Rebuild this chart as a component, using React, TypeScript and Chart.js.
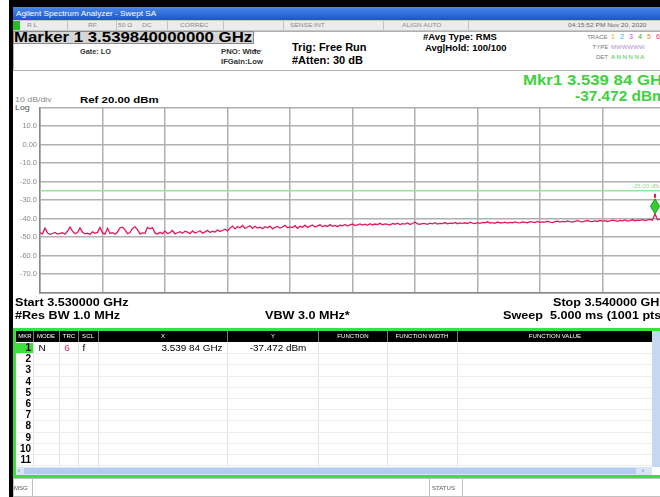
import React, { useEffect, useRef } from "react";
import { Chart, registerables } from "chart.js";

Chart.register(...registerables);

// ---- data ----
const START_GHZ = 3.53;
const STOP_GHZ = 3.54;
const X_GRID_GHZ = [3.53, 3.531, 3.532, 3.533, 3.534, 3.535, 3.536, 3.537, 3.538, 3.539, 3.54];
const Y_TICKS_DBM = [20, 10, 0, -10, -20, -30, -40, -50, -60, -70, -80];
const REF_DBM = 20;
const BOTTOM_DBM = -80;
const DISPLAY_LINE_DBM = -25;
const MARKER_GHZ = 3.53984;
const MARKER_DBM = -37.472;

// trace values (dBm), 251 sweep points
const TRACE_DBM = [
  -47.8, -48.3, -45.2, -47.9, -48.6, -48.1, -47.5, -48.4, -48.0, -47.7,
  -48.5, -46.9, -44.6, -46.8, -48.2, -47.6, -45.1, -47.4, -48.3, -47.9,
  -48.6, -47.2, -48.0, -47.5, -44.9, -47.8, -48.4, -45.3, -48.1, -47.7,
  -48.5, -47.3, -45.0, -44.7, -46.1, -48.2, -47.6, -45.4, -44.5, -46.0,
  -48.3, -47.8, -48.0, -44.8, -45.6, -44.9, -47.9, -48.4, -47.5, -48.2,
  -46.8, -48.1, -47.6, -46.5, -48.3, -47.7, -47.1, -48.0, -46.9, -47.4,
  -48.2, -46.7, -47.8, -47.3, -46.6, -47.9, -47.2, -46.4, -47.6, -46.9,
  -47.3, -46.2, -47.0, -46.5, -45.8, -46.7, -45.2, -44.1, -45.6, -44.3,
  -45.0, -43.8, -45.4, -44.6, -43.9, -45.3, -44.2, -45.1, -44.7, -45.5,
  -44.4, -45.0, -44.1, -45.6, -44.8, -44.3, -45.2, -44.6, -43.7, -45.0,
  -44.5, -44.9, -43.9, -45.3, -44.2, -44.7, -43.6, -44.8, -44.1, -43.5,
  -44.6, -44.0, -43.4, -44.5, -43.8, -44.3, -43.3, -44.2, -43.7, -44.4,
  -43.6, -43.9, -43.2, -44.1, -43.5, -43.0, -43.8, -43.4, -42.9, -43.6,
  -43.1, -43.7, -42.8, -43.5, -43.0, -43.3, -42.6, -43.4, -42.9, -43.2,
  -43.6, -42.7, -43.1, -42.5, -43.3, -42.8, -43.0, -42.4, -43.2, -42.7,
  -41.9, -42.9, -43.1, -42.6, -42.8, -43.2, -42.5, -42.9, -42.3, -43.0,
  -42.6, -42.8, -42.2, -42.9, -42.5, -42.7, -42.1, -42.8, -42.4, -42.6,
  -42.3, -42.7, -42.0, -42.5, -42.8, -42.2, -42.6, -42.1, -42.4, -41.8,
  -42.5, -42.2, -42.6, -41.9, -42.3, -42.4, -42.0, -42.5, -42.1, -42.3,
  -41.8, -42.2, -42.4, -41.9, -42.1, -42.3, -41.7, -42.0, -42.2, -41.6,
  -42.1, -41.8, -42.0, -41.5, -41.9, -42.2, -41.7, -41.4, -41.9, -41.6,
  -41.8, -41.3, -41.7, -41.9, -41.5, -41.2, -41.6, -41.8, -41.4, -41.1,
  -41.5, -41.7, -41.3, -41.6, -41.0, -41.4, -41.2, -41.6, -41.3, -40.9,
  -41.2, -41.5, -41.0, -41.3, -40.8, -41.4, -41.1, -40.7, -41.2, -40.9,
  -41.0, -40.6, -41.1, -40.8, -40.5, -40.9, -37.472, -40.7, -40.4, -40.8,
  -40.6,
];

const FONT = '"Liberation Sans", Arial, sans-serif';

type TP = {
  x: number; y: number; s: number; t: string; b?: boolean; c?: string; sx?: number;
  align?: "left" | "right" | "center";
};
function T({ x, y, s, t, b, c, sx = 1.15, align = "left" }: TP) {
  const style: React.CSSProperties = {
    position: "absolute",
    top: y - s * 0.6,
    fontSize: s,
    lineHeight: `${s * 1.2}px`,
    fontWeight: b ? 700 : 400,
    color: c || "#000",
    whiteSpace: "pre",
    fontFamily: FONT,
  };
  if (align === "left") {
    style.left = x;
    style.transform = `scaleX(${sx})`;
    style.transformOrigin = "left center";
  } else if (align === "right") {
    style.right = 660 - x;
    style.transform = `scaleX(${sx})`;
    style.transformOrigin = "right center";
  } else {
    style.left = x;
    style.transform = `translateX(-50%) scaleX(${sx})`;
    style.transformOrigin = "center";
  }
  return <div style={style}>{t}</div>;
}

function Box({ x, y, w, h, bg, border }: { x: number; y: number; w: number; h: number; bg?: string; border?: string }) {
  return (
    <div
      style={{
        position: "absolute", left: x, top: y, width: w, height: h,
        background: bg || "transparent", border: border || "none", boxSizing: "border-box",
      }}
    />
  );
}

const COLS = [16, 33, 59, 78, 98, 227, 318, 387, 457, 652];
const HEAD = ["MKR", "MODE", "TRC", "SCL", "X", "Y", "FUNCTION", "FUNCTION WIDTH", "FUNCTION VALUE"];

export default function App() {
  const ref = useRef<HTMLCanvasElement | null>(null);

  useEffect(() => {
    if (!ref.current) return;
    const n = TRACE_DBM.length;
    const trace = TRACE_DBM.map((v, i) => ({ x: START_GHZ + (i * (STOP_GHZ - START_GHZ)) / (n - 1), y: v }));
    const dl = [
      { x: START_GHZ, y: DISPLAY_LINE_DBM },
      { x: STOP_GHZ, y: DISPLAY_LINE_DBM },
    ];
    const markerPlugin = {
      id: "mkr",
      afterDatasetsDraw(chart: any) {
        const { ctx, scales, chartArea } = chart;
        const xs = scales.x, ys = scales.y;
        const px = xs.getPixelForValue(MARKER_GHZ);
        const py = ys.getPixelForValue(MARKER_DBM);
        ctx.save();
        ctx.fillStyle = "#8fdf8f";
        ctx.font = `6px ${FONT}`;
        ctx.textAlign = "right";
        ctx.textBaseline = "bottom";
        ctx.fillText(`${DISPLAY_LINE_DBM.toFixed(2)} dBm`, chartArea.right - 2, ys.getPixelForValue(DISPLAY_LINE_DBM) - 1);
        ctx.beginPath();
        ctx.moveTo(px, py);
        ctx.lineTo(px - 4.5, py - 7.5);
        ctx.lineTo(px, py - 15);
        ctx.lineTo(px + 4.5, py - 7.5);
        ctx.closePath();
        ctx.fillStyle = "#30d030";
        ctx.fill();
        ctx.strokeStyle = "#1a9a1a";
        ctx.lineWidth = 1;
        ctx.stroke();
        ctx.fillStyle = "#e3185b";
        ctx.fillRect(px - 1, py - 20, 2, 4);
        ctx.restore();
      },
    };
    const chart = new Chart(ref.current, {
      type: "line",
      data: {
        datasets: [
          { data: trace, borderColor: "#e3185b", borderWidth: 1.3, pointRadius: 0, tension: 0 },
          { data: dl, borderColor: "#98e698", borderWidth: 1.5, pointRadius: 0 },
        ],
      },
      options: {
        animation: false,
        responsive: false,
        devicePixelRatio: 1,
        layout: { padding: { top: 6, bottom: 7, left: 0, right: 15 }, autoPadding: false } as any,
        plugins: { legend: { display: false }, tooltip: { enabled: false } },
        scales: {
          x: {
            type: "linear",
            min: START_GHZ,
            max: STOP_GHZ,
            afterBuildTicks: (s: any) => {
              s.ticks = X_GRID_GHZ.map((v) => ({ value: v }));
            },
            ticks: { display: false },
            grid: { color: "#b0b0b0", drawTicks: false, lineWidth: 1.5 },
            border: { color: "#888888", width: 1.5 },
          },
          y: {
            type: "linear",
            min: BOTTOM_DBM,
            max: REF_DBM,
            afterBuildTicks: (s: any) => {
              s.ticks = Y_TICKS_DBM.map((v) => ({ value: v }));
            },
            afterFit: (s: any) => {
              s.width = 40;
            },
            ticks: {
              color: "#8a8a8a",
              padding: 3,
              font: { size: 7.5, family: FONT },
              callback: (v: any) => {
                const n2 = Number(v);
                if (n2 === REF_DBM || n2 === BOTTOM_DBM) return "";
                if (n2 === 0) return "0.00";
                return n2.toFixed(1);
              },
            },
            grid: { color: "#b0b0b0", drawTicks: false, lineWidth: 1.5 },
            border: { color: "#888888", width: 1.5 },
          },
        },
      },
      plugins: [markerPlugin],
    });
    return () => chart.destroy();
  }, []);

  const rows = Array.from({ length: 11 }, (_, i) => i);

  return (
    <div style={{ position: "absolute", left: 0, top: 0, width: 660, height: 497, overflow: "hidden", background: "#fff", fontFamily: FONT }}>
      {/* frame */}
      <Box x={9} y={0} w={660} h={7} bg="#000" />
      <Box x={9} y={0} w={4} h={497} bg="#000" />
      {/* title bar */}
      <div style={{ position: "absolute", left: 13, top: 7, width: 650, height: 13, background: "linear-gradient(#4a88ea, #1a56cc)" }} />
      <T x={16} y={13.5} s={7.5} t="Agilent Spectrum Analyzer - Swept SA" c="#fff" sx={1.1} />
      {/* status row */}
      <Box x={13} y={20} w={650} h={11} bg="#ececec" border="1px solid #c8c8c8" />
      <Box x={13} y={21} w={7} h={9} bg="#22c022" />
      {[67, 116, 167, 223, 283, 383, 468].map((x) => (
        <Box key={x} x={x} y={21} w={1} h={9} bg="#c4c4c4" />
      ))}
      <T x={27} y={25.5} s={6} t="R L" c="#8a8a8a" sx={1.1} />
      <T x={88} y={25.5} s={6} t="RF" c="#8a8a8a" sx={1.1} />
      <T x={118} y={25.5} s={6} t="50 Ω" c="#8a8a8a" sx={1.1} />
      <T x={142} y={25.5} s={6} t="DC" c="#8a8a8a" sx={1.1} />
      <T x={180} y={25.5} s={6} t="CORREC" c="#8a8a8a" sx={1.1} />
      <T x={290} y={25.5} s={6} t="SENSE:INT" c="#8a8a8a" sx={1.1} />
      <T x={402} y={25.5} s={6} t="ALIGN AUTO" c="#8a8a8a" sx={1.1} />
      <T x={568} y={25.5} s={6} t="04:15:52 PM Nov 20, 2020" c="#666" sx={1.1} />
      {/* info panel */}
      <Box x={13} y={31} w={650} h={40} border="1px solid #b0b0b0" />
      <Box x={13} y={31} w={241} h={13} bg="#d6d6d6" border="1px solid #8a8a8a" />
      <T x={14} y={37.5} s={14} b t="Marker 1 3.539840000000 GHz" sx={1.2} />
      <T x={80} y={52} s={7} b c="#333" t="Gate: LO" sx={1.05} />
      <T x={221} y={52} s={7} b c="#333" t="PNO: Wide" sx={1.1} />
      <T x={221} y={62} s={7} b c="#333" t="IFGain:Low" sx={1.1} />
      <T x={250} y={51} s={6} c="#333" t="--▸--" sx={1.1} />
      <T x={292} y={48} s={10} b t="Trig: Free Run" sx={1.1} />
      <T x={292} y={61} s={10} b t="#Atten: 30 dB" sx={1.1} />
      <T x={423} y={37} s={9.5} b t="#Avg Type: RMS" sx={1.0} />
      <T x={425} y={48} s={9.5} b t="Avg|Hold: 100/100" sx={1.0} />
      <T x={608} y={37} s={5.5} c="#777" t="TRACE" align="right" sx={1.1} />
      <T x={608} y={47} s={5.5} c="#777" t="TYPE" align="right" sx={1.1} />
      <T x={608} y={57} s={5.5} c="#777" t="DET" align="right" sx={1.1} />
      {["1", "2", "3", "4", "5", "6"].map((d, i) => (
        <T key={d} x={611 + i * 9} y={37} s={6.5} c={["#e6b800", "#30b8e0", "#d040d0", "#30b030", "#e09020", "#e03060"][i]} t={d} sx={1.1} />
      ))}
      <T x={611} y={47} s={5.5} c="#b090d0" t="MWWWWW" sx={1.1} />
      <T x={611} y={57} s={5.5} c="#40c040" t="A N N N N A" sx={1.1} />
      {/* marker readout */}
      <T x={523} y={80} s={14} b c="#3ed23e" t="Mkr1 3.539 84 GHz" sx={1.2} />
      <T x={575} y={96} s={14} b c="#3ed23e" t="-37.472 dBm" sx={1.1} />
      <T x={15} y={100} s={8} c="#8a8a8a" t="10 dB/div" sx={1.1} />
      <T x={80} y={99.5} s={9.5} b t="Ref 20.00 dBm" sx={1.2} />
      <T x={15} y={107.5} s={8} c="#555" t="Log" sx={1.1} />
      {/* chart */}
      <canvas ref={ref} width={680} height={200} style={{ position: "absolute", left: 0, top: 100, width: 680, height: 200 }} />
      {/* footer of plot */}
      <T x={15} y={302.5} s={10.5} b t="Start 3.530000 GHz" sx={1.2} />
      <T x={15} y={315.5} s={10.5} b t="#Res BW 1.0 MHz" sx={1.2} />
      <T x={265} y={315.5} s={10.5} b t="VBW 3.0 MHz*" sx={1.2} />
      <T x={553} y={302.5} s={10.5} b t="Stop 3.540000 GHz" sx={1.2} />
      <T x={503} y={315.5} s={10.5} b t="Sweep  5.000 ms (1001 pts" sx={1.2} />
      {/* marker table */}
      <Box x={13} y={328} w={652} h={150} border="3px solid #3ce03c" />
      <Box x={16} y={331} w={636} h={11} bg="#000" />
      {COLS.slice(1, -1).map((x) => (
        <Box key={"h" + x} x={x} y={331} w={1} h={11} bg="#777" />
      ))}
      {HEAD.map((h, i) => (
        <T key={h} x={(COLS[i] + COLS[i + 1]) / 2} y={336.5} s={5.5} c="#fff" t={h} align="center" sx={1.1} />
      ))}
      {COLS.slice(1, -1).map((x) => (
        <Box key={"c" + x} x={x} y={342} w={1} h={125} bg="#e2e2e2" />
      ))}
      {rows.map((i) => (
        <Box key={"r" + i} x={16} y={342 + (i + 1) * 11.2} w={636} h={1} bg="#ececec" />
      ))}
      <Box x={16} y={343} w={17} h={10} bg="#3ce03c" />
      {rows.map((i) => (
        <T key={"n" + i} x={31} y={348 + i * 11.2} s={10} b t={String(i + 1)} align="right" sx={1.0} />
      ))}
      <T x={42} y={348} s={9.5} t="N" align="center" sx={1.05} />
      <T x={67} y={348} s={9.5} t="6" c="#e03060" align="center" sx={1.05} />
      <T x={84} y={348} s={9.5} t="f" align="center" sx={1.05} />
      <T x={223} y={348} s={9} t="3.539 84 GHz" align="right" sx={1.1} />
      <T x={278} y={348} s={9} t="-37.472 dBm" align="center" sx={1.1} />
      {/* scrollbars */}
      <Box x={652} y={331} w={8} h={136} bg="#c4d8f2" />
      <Box x={16} y={467} w={636} h={8} bg="#d8e4f6" />
      <Box x={24} y={468} w={612} h={6} bg="#b4ccee" />
      <T x={18} y={471} s={6} c="#4060a0" t="‹" sx={1} />
      <T x={642} y={471} s={6} c="#4060a0" t="›" sx={1} />
      {/* message bar */}
      <Box x={13} y={478} w={650} h={19} bg="#fff" border="1px solid #c0c0c0" />
      <Box x={32} y={479} w={1} h={18} bg="#c0c0c0" />
      <Box x={429} y={479} w={1} h={18} bg="#c0c0c0" />
      <Box x={462} y={479} w={1} h={18} bg="#c0c0c0" />
      <T x={14} y={488} s={5.5} c="#555" t="MSG" sx={1.1} />
      <T x={432} y={488} s={5.5} c="#555" t="STATUS" sx={1.1} />
    </div>
  );
}
